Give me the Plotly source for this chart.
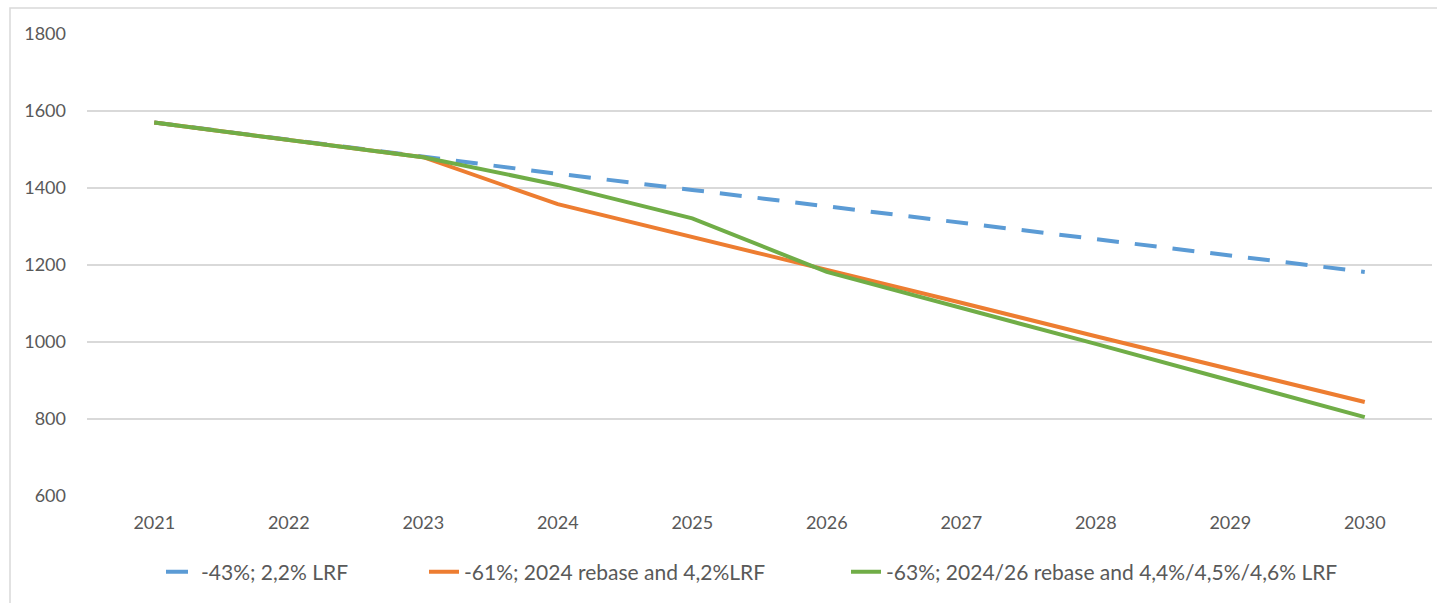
import plotly.graph_objects as go

years = ["2021", "2022", "2023", "2024", "2025", "2026", "2027", "2028", "2029", "2030"]

lrf_22 = [1570, 1525, 1480, 1437, 1395, 1352, 1310, 1267, 1225, 1182]
rebase_2024 = [1570, 1525, 1480, 1358, 1273, 1189, 1102, 1015, 930, 844]
rebase_2024_26 = [1570, 1525, 1480, 1408, 1321, 1182, 1089, 995, 900, 805]

names = [
    "-43%; 2,2% LRF",
    "-61%; 2024 rebase and 4,2%LRF",
    "-63%; 2024/26 rebase and 4,4%/4,5%/4,6% LRF",
]
colors = ["#5B9BD5", "#ED7D31", "#70AD47"]

W, H = 1437, 603
L, R, T, B = 87, 5, 34, 107
pw = W - L - R
ph = H - T - B

fig = go.Figure()
fig.add_trace(go.Scatter(x=years, y=lrf_22, name=names[0], mode="lines", legend="legend",
                         line=dict(color=colors[0], width=4, dash="22px,16px")))
fig.add_trace(go.Scatter(x=years, y=rebase_2024, name=names[1], mode="lines", legend="legend2",
                         line=dict(color=colors[1], width=4)))
fig.add_trace(go.Scatter(x=years, y=rebase_2024_26, name=names[2], mode="lines", legend="legend3",
                         line=dict(color=colors[2], width=4)))

# chart-area frame
fig.add_shape(type="rect", xref="paper", yref="paper",
              x0=(10 - L) / pw, x1=(W + 10 - L) / pw,
              y0=-(H + 10 - T - ph) / ph, y1=(ph + T - 8) / ph,
              line=dict(color="#d9d9d9", width=1.5), layer="below")

tick_font = dict(family="Lato, Calibri, sans-serif", size=18, color="#595959")
leg_font = dict(family="Lato, Calibri, sans-serif", size=21, color="#595959")


def legend_at(px):
    return dict(orientation="h", x=(px - L) / pw, xanchor="left",
                y=-(572 - T - ph) / ph, yanchor="middle",
                font=leg_font, bgcolor="rgba(0,0,0,0)", itemwidth=30)


fig.update_layout(
    width=W, height=H,
    margin=dict(l=L, r=R, t=T, b=B),
    paper_bgcolor="white", plot_bgcolor="white",
    font=tick_font,
    showlegend=True,
    legend=legend_at(161),
    legend2=legend_at(424),
    legend3=legend_at(846),
    xaxis=dict(type="category", range=[-0.5, 9.5], showgrid=False, showline=False,
               ticks="", tickfont=tick_font, ticklabelstandoff=14),
    yaxis=dict(range=[600, 1800], dtick=200, showgrid=True, gridcolor="#d9d9d9",
               gridwidth=1.5, zeroline=False, showline=False, ticks="",
               tickfont=tick_font, ticklabelstandoff=20),
)

fig.write_html("out.html")
